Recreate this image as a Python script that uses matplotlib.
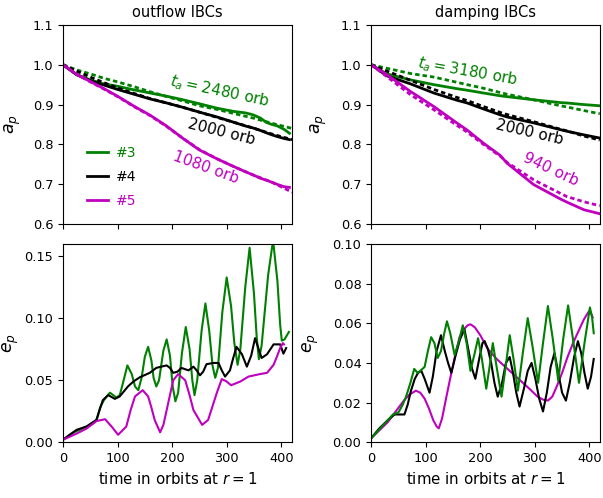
import matplotlib
matplotlib.use("Agg")
import matplotlib.pyplot as plt

# ---- semi-major axis, outflow IBCs ----
t_ao = [0, 25, 50, 75, 100, 130, 160, 190, 220, 250, 282, 312, 335, 349, 362, 373, 383, 392, 405, 415]
a3_out = [1.0, 0.975, 0.962, 0.952, 0.946, 0.937, 0.929, 0.921, 0.912, 0.902, 0.891, 0.883, 0.879, 0.874, 0.866, 0.855, 0.850, 0.847, 0.838, 0.828]
a4_out = [1.0, 0.975, 0.960, 0.949, 0.938, 0.926, 0.914, 0.904, 0.893, 0.881, 0.869, 0.856, 0.846, 0.841, 0.835, 0.829, 0.824, 0.820, 0.815, 0.812]
a5_out = [1.0, 0.976, 0.958, 0.940, 0.921, 0.896, 0.873, 0.846, 0.815, 0.786, 0.764, 0.745, 0.731, 0.723, 0.715, 0.710, 0.705, 0.700, 0.694, 0.692]
t_fo = [0, 25, 50, 75, 100, 130, 160, 190, 220, 250, 282, 312, 349, 383, 420]
f3_out = [1.0, 0.987, 0.977, 0.966, 0.957, 0.945, 0.932, 0.920, 0.909, 0.897, 0.888, 0.878, 0.866, 0.853, 0.840]
f4_out = [1.0, 0.984, 0.969, 0.955, 0.942, 0.928, 0.915, 0.904, 0.893, 0.881, 0.868, 0.856, 0.841, 0.826, 0.812]
f5_out = [1.0, 0.976, 0.957, 0.939, 0.920, 0.895, 0.872, 0.845, 0.815, 0.787, 0.764, 0.745, 0.723, 0.705, 0.680]

# ---- semi-major axis, damping IBCs ----
t_ad = [0, 29, 72, 115, 157, 176, 206, 237, 249, 298, 347, 359, 390, 419]
a3_dmp = [1.0, 0.977, 0.962, 0.950, 0.940, 0.936, 0.929, 0.922, 0.920, 0.912, 0.905, 0.904, 0.900, 0.897]
a4_dmp = [1.0, 0.972, 0.952, 0.929, 0.911, 0.904, 0.889, 0.874, 0.869, 0.854, 0.837, 0.833, 0.824, 0.816]
a5_dmp = [1.0, 0.975, 0.933, 0.895, 0.854, 0.836, 0.803, 0.772, 0.753, 0.699, 0.663, 0.655, 0.636, 0.626]
f3_dmp = [1.0, 0.991, 0.978, 0.969, 0.956, 0.950, 0.941, 0.930, 0.926, 0.912, 0.897, 0.894, 0.885, 0.877]
f4_dmp = [1.0, 0.984, 0.961, 0.938, 0.918, 0.910, 0.895, 0.880, 0.875, 0.857, 0.838, 0.834, 0.821, 0.811]
f5_dmp = [1.0, 0.970, 0.925, 0.887, 0.848, 0.831, 0.800, 0.770, 0.755, 0.711, 0.677, 0.669, 0.656, 0.646]

# ---- eccentricity, outflow IBCs ----
t3_eo = [0, 20, 40, 55, 62, 68, 75, 80, 86, 92, 98, 104, 110, 118, 126, 132, 138, 144, 150, 156,
         162, 166, 171, 176, 184, 190, 196, 201, 206, 211, 218, 225, 232, 237, 241, 246, 254, 261, 268, 274,
         279, 284, 292, 300, 308, 314, 320, 325, 334, 342, 350, 355, 359, 364, 376, 385, 393, 398, 401, 406, 414]
e3_out = [0.002, 0.008, 0.012, 0.015, 0.018, 0.028, 0.034, 0.037, 0.040, 0.038, 0.036, 0.038, 0.048, 0.062, 0.055, 0.045, 0.042, 0.052, 0.069, 0.077,
          0.066, 0.052, 0.045, 0.050, 0.074, 0.083, 0.070, 0.045, 0.033, 0.040, 0.072, 0.093, 0.075, 0.050, 0.038, 0.050, 0.090, 0.112, 0.090, 0.062,
          0.052, 0.060, 0.105, 0.133, 0.110, 0.080, 0.0625, 0.075, 0.125, 0.157, 0.120, 0.085, 0.067, 0.078, 0.135, 0.163, 0.130, 0.095, 0.082, 0.083, 0.089]
t4_eo = [0, 12, 25, 43, 61, 67, 73, 83, 95, 104, 119, 129, 141, 159, 171, 180, 190, 196, 202, 210, 217, 230, 239, 245, 251, 257,
         263, 276, 285, 291, 297, 306, 312, 318, 328, 337, 345, 352, 358, 364, 374, 386, 398, 404, 409]
e4_out = [0.002, 0.006, 0.010, 0.0127, 0.018, 0.026, 0.034, 0.038, 0.035, 0.037, 0.045, 0.049, 0.0525, 0.056, 0.060, 0.061, 0.062, 0.060, 0.056, 0.057, 0.060, 0.058, 0.061, 0.058, 0.054, 0.057,
          0.063, 0.064, 0.064, 0.058, 0.053, 0.058, 0.068, 0.077, 0.071, 0.061, 0.070, 0.084, 0.076, 0.068, 0.071, 0.079, 0.079, 0.0715, 0.076]
t5_eo = [0, 25, 43, 61, 77, 89, 101, 116, 124, 132, 146, 156, 162, 168, 178, 184, 190, 202, 211, 224, 232, 239, 255, 266, 274, 282,
         291, 300, 308, 325, 340, 361, 374, 386, 392, 398, 403, 405]
e5_out = [0.002, 0.007, 0.011, 0.017, 0.0186, 0.0127, 0.006, 0.0127, 0.026, 0.037, 0.042, 0.037, 0.028, 0.018, 0.008, 0.014, 0.026, 0.050, 0.055, 0.050, 0.038, 0.026, 0.014, 0.018, 0.029, 0.040,
          0.051, 0.049, 0.046, 0.049, 0.053, 0.055, 0.056, 0.0625, 0.069, 0.076, 0.080, 0.079]

# ---- eccentricity, damping IBCs ----
t3_ed = [0, 10, 20, 30, 40, 50, 58, 64, 72, 79, 85, 90, 98, 104, 110, 116, 122, 128, 134, 139, 145, 153, 160, 168, 175, 182, 189,
         196, 203, 211, 217, 223, 230, 239, 246, 254, 261, 269, 278, 287, 296, 306, 315, 324, 333, 343, 352, 361, 371, 381, 391, 401, 405, 408]
e3_dmp = [0.002, 0.005, 0.008, 0.011, 0.014, 0.015, 0.019, 0.023, 0.030, 0.037, 0.035, 0.036, 0.038, 0.046, 0.053, 0.050, 0.0425, 0.046, 0.055, 0.061, 0.055, 0.044, 0.050, 0.059, 0.050, 0.036, 0.044,
          0.0525, 0.042, 0.027, 0.038, 0.050, 0.038, 0.023, 0.037, 0.054, 0.042, 0.026, 0.045, 0.0626, 0.048, 0.030, 0.050, 0.0687, 0.052, 0.031, 0.052, 0.069, 0.050, 0.030, 0.050, 0.068, 0.063, 0.055]
t4_ed = [0, 15, 30, 43, 52, 61, 67, 73, 80, 86, 92, 98, 107, 113, 120, 128, 135, 141, 147, 155, 163, 171, 178, 185, 191, 198, 204, 208,
         214, 220, 226, 232, 240, 247, 254, 260, 266, 272, 280, 287, 294, 301, 308, 315, 322, 329, 336, 343, 350, 357, 364, 372, 379, 385, 391, 397, 403, 408]
e4_dmp = [0.002, 0.007, 0.011, 0.014, 0.014, 0.014, 0.019, 0.026, 0.032, 0.035, 0.036, 0.032, 0.025, 0.033, 0.046, 0.054, 0.046, 0.040, 0.035, 0.044, 0.052, 0.057, 0.047, 0.037, 0.032, 0.042, 0.050, 0.051,
          0.047, 0.040, 0.030, 0.023, 0.030, 0.040, 0.043, 0.035, 0.025, 0.018, 0.027, 0.036, 0.040, 0.032, 0.022, 0.0155, 0.025, 0.038, 0.045, 0.035, 0.025, 0.021, 0.030, 0.043, 0.051, 0.045, 0.035, 0.027, 0.033, 0.042]
t5_ed = [0, 15, 30, 49, 60, 70, 82, 90, 98, 106, 114, 120, 124, 130, 138, 147, 155, 162, 170, 177, 182, 190, 200, 214, 230, 250,
         270, 290, 305, 315, 324, 332, 340, 350, 360, 370, 380, 390, 399, 403, 406]
e5_dmp = [0.002, 0.006, 0.010, 0.017, 0.021, 0.024, 0.026, 0.025, 0.022, 0.017, 0.011, 0.008, 0.007, 0.012, 0.023, 0.035, 0.045, 0.053, 0.057, 0.059, 0.0595, 0.058, 0.054, 0.047, 0.042, 0.037,
          0.032, 0.027, 0.023, 0.0215, 0.021, 0.023, 0.028, 0.035, 0.043, 0.050, 0.056, 0.062, 0.066, 0.065, 0.063]

labels = ["#3", "#4", "#5"]
colors = ["green", "black", "m"]
dash = (0, (1.6, 1.1))

fig = plt.figure(figsize=(6.03, 4.98), dpi=100)
ax1 = fig.add_axes([0.1045, 0.550, 0.380, 0.400])
ax2 = fig.add_axes([0.6155, 0.550, 0.380, 0.400])
ax3 = fig.add_axes([0.1045, 0.112, 0.380, 0.398])
ax4 = fig.add_axes([0.6155, 0.112, 0.380, 0.398])

# top left
for a, f, c, lab in zip([a3_out, a4_out, a5_out], [f3_out, f4_out, f5_out], colors, labels):
    ax1.plot(t_ao, a, color=c, lw=2, label=lab)
    ax1.plot(t_fo, f, color=c, lw=2, linestyle=dash)
ax1.text(288, 0.934, "$t_a = 2480$ orb", color="green", fontsize=11, rotation=-12, ha="center", va="center")
ax1.text(291, 0.831, "2000 orb", color="black", fontsize=11, rotation=-14, ha="center", va="center")
ax1.text(262, 0.741, "1080 orb", color="m", fontsize=11, rotation=-20, ha="center", va="center")
ax1.legend(loc="lower left", bbox_to_anchor=(0.05, 0.02), frameon=False, labelcolor="linecolor",
           fontsize=10, handlelength=1.5, handletextpad=0.6, labelspacing=0.7)
ax1.set_title("outflow IBCs", fontsize=10.5)

# top right
for a, f, c in zip([a3_dmp, a4_dmp, a5_dmp], [f3_dmp, f4_dmp, f5_dmp], colors):
    ax2.plot(t_ad, a, color=c, lw=2)
    ax2.plot(t_ad, f, color=c, lw=2, linestyle=dash)
ax2.text(178, 0.982, "$t_a = 3180$ orb", color="green", fontsize=11, rotation=-10, ha="center", va="center")
ax2.text(291, 0.831, "2000 orb", color="black", fontsize=11, rotation=-13, ha="center", va="center")
ax2.text(330, 0.738, "940 orb", color="m", fontsize=11, rotation=-25, ha="center", va="center")
ax2.set_title("damping IBCs", fontsize=10.5)

for ax in (ax1, ax2):
    ax.set_ylim(0.6, 1.1)
    ax.set_ylabel("$a_p$", fontsize=12.5)
    ax.tick_params(labelbottom=False)

# bottom
ax3.plot(t3_eo, e3_out, color="green", lw=1.5)
ax3.plot(t4_eo, e4_out, color="black", lw=1.5)
ax3.plot(t5_eo, e5_out, color="m", lw=1.5)
ax3.set_ylim(0, 0.16)
ax3.set_yticks([0, 0.05, 0.10, 0.15])

ax4.plot(t5_ed, e5_dmp, color="m", lw=1.5)
ax4.plot(t4_ed, e4_dmp, color="black", lw=1.5)
ax4.plot(t3_ed, e3_dmp, color="green", lw=1.5)
ax4.set_ylim(0, 0.10)
ax4.set_yticks([0, 0.02, 0.04, 0.06, 0.08, 0.10])

for ax in (ax3, ax4):
    ax.set_ylabel("$e_p$", fontsize=12.5)
    ax.set_xlabel("time in orbits at $r = 1$", fontsize=10.8)
    ax.yaxis.set_major_formatter(matplotlib.ticker.FormatStrFormatter("%.2f"))

ax1.yaxis.set_label_coords(-0.175, 0.5)
ax2.yaxis.set_label_coords(-0.183, 0.5)
ax3.yaxis.set_label_coords(-0.183, 0.5)
ax4.yaxis.set_label_coords(-0.218, 0.5)

for ax in (ax1, ax2, ax3, ax4):
    ax.set_xlim(0, 420)
    ax.set_xticks([0, 100, 200, 300, 400])
    ax.tick_params(labelsize=9.3)

fig.savefig("out.png", dpi=100)
